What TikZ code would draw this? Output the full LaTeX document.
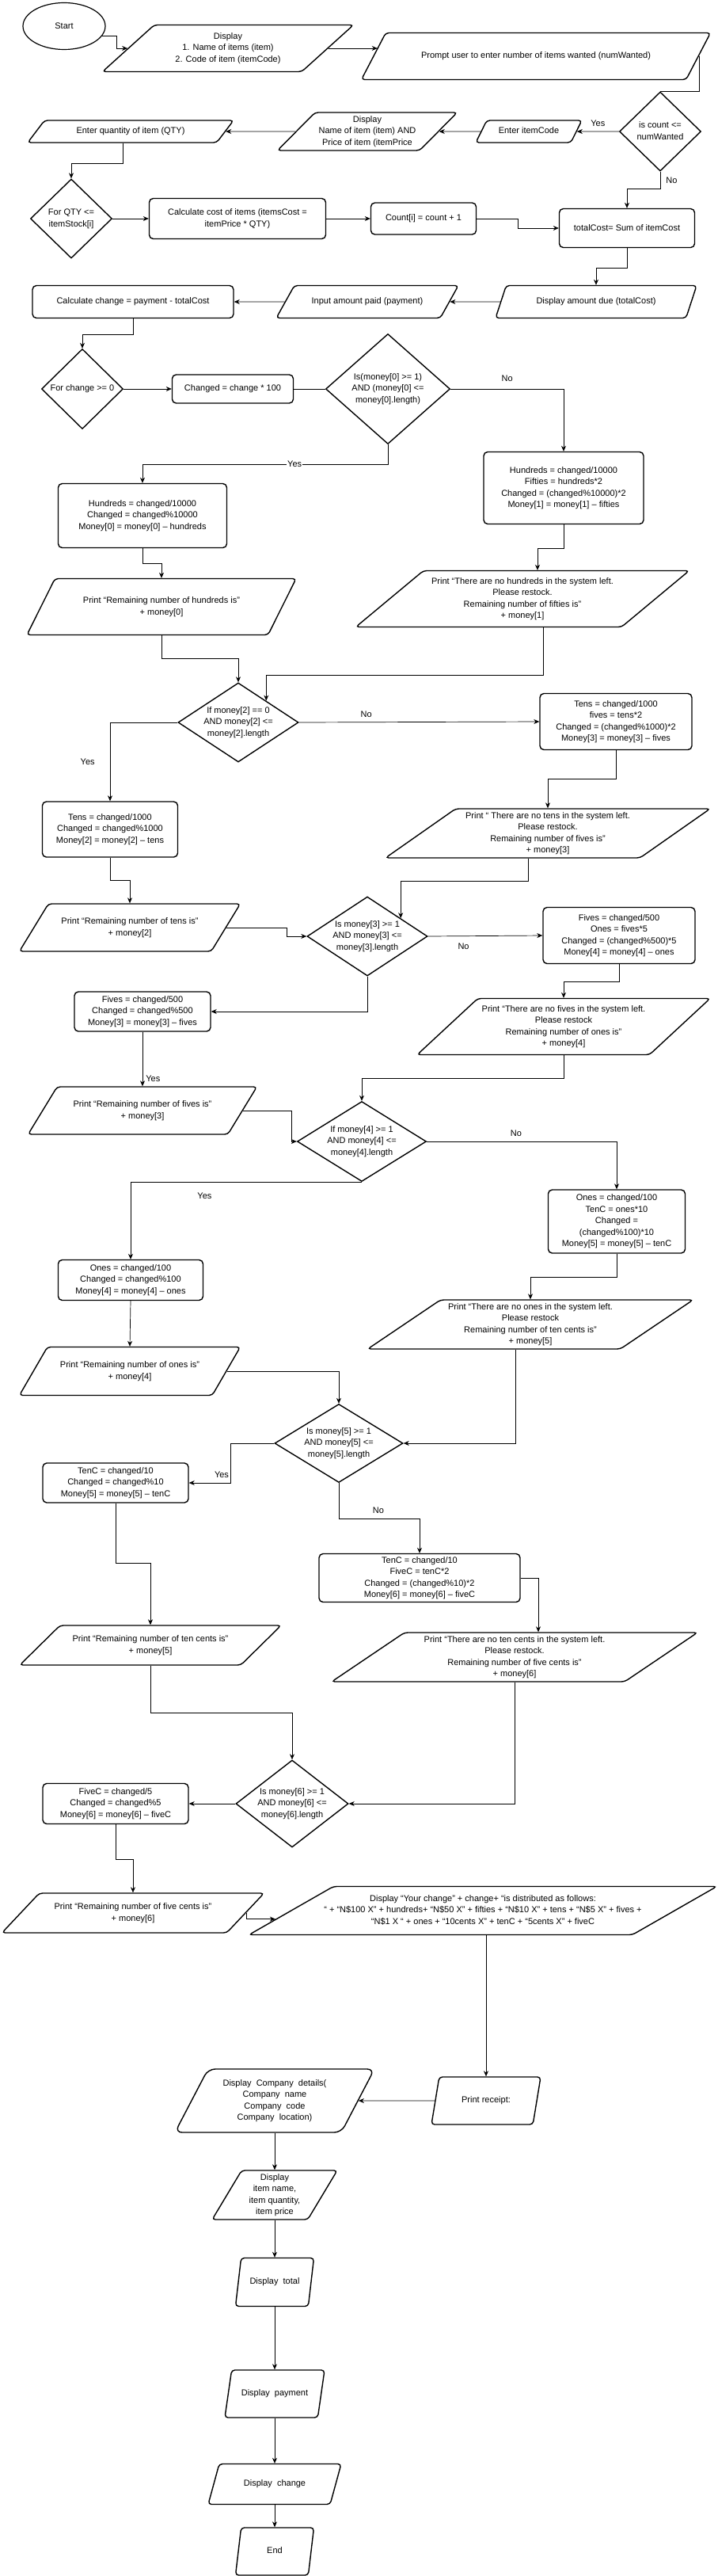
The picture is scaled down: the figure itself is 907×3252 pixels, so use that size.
\documentclass[tikz,border=0pt]{standalone}
\usepackage{fontspec}
\setmainfont{Liberation Sans}
\usepackage{tikz}
\usetikzlibrary{shapes.geometric, arrows.meta, calc, positioning}
\newcommand{\flowtxt}[1]{\makebox[0pt]{\begin{tabular}{@{}c@{}}#1\end{tabular}}}
\tikzset{
    proc/.style={draw, rectangle, rounded corners=5pt, line width=1.4pt, align=center, inner sep=2pt},
    io/.style={draw, trapezium, trapezium left angle=#1, trapezium right angle=180-#1, trapezium stretches body, rounded corners=4pt, line width=1.4pt, inner sep=2pt},
    dec/.style={draw, diamond, line width=1.4pt, inner sep=1pt},
    term/.style={draw, ellipse, line width=1.2pt},
    sz/.style 2 args={minimum width=#1, minimum height=#2},
    conn/.style={-, line width=0.7pt},
    arr/.style={conn, -{Stealth[length=7pt, width=6pt]}},
    lbl/.style={inner sep=1pt},
}

\begin{document}
\begin{tikzpicture}[x=1pt, y=-1pt, every node/.append style={font=\fontsize{11}{14.5}\selectfont}]
    \fill[white] (0,0) rectangle (907,3252);
    \useasboundingbox (0,0) rectangle (907,3252);

    % ordering items
    \node[term, sz={104}{59}] (start) at (81,33) {Start};
    \node[io=36, sz={317}{59}] (disp1) at (288,61) {\flowtxt{Display\\1. Name of items (item)\\2. Code of item (itemCode)}};
    \node[io=31, sz={441}{59}] (prompt) at (677,71) {\flowtxt{Prompt user to enter number of items wanted (numWanted)}};
    \node[dec, sz={103}{100}] (cnt) at (834,166) {\flowtxt{is count <=\\numWanted}};
    \node[io=53, sz={134}{28}] (code) at (668,166) {\flowtxt{Enter itemCode}};
    \node[io=45, sz={227}{48}] (disp2) at (464,166) {\flowtxt{Display\\Name of item (item) AND\\Price of item (itemPrice}};
    \node[io=41, sz={260}{28}] (qty) at (165,166) {\flowtxt{Enter quantity of item (QTY)}};
    \node[dec, sz={103}{100}] (forqty) at (90,276) {\flowtxt{For QTY <=\\itemStock[i]}};
    \node[proc, sz={223}{51}] (calc) at (300,276) {Calculate cost of items (itemsCost =\\itemPrice * QTY)};
    \node[proc, sz={133}{40}] (count) at (535,276) {Count[i] = count + 1};
    \node[proc, sz={171}{49}] (total) at (792,288) {totalCost= Sum of itemCost};

    % payment
    \node[io=54, sz={254}{41}] (due) at (753,381) {\flowtxt{Display amount due (totalCost)}};
    \node[io=39, sz={230}{41}] (paid) at (464,381) {\flowtxt{Input amount paid (payment)}};
    \node[proc, sz={254}{41}] (chg) at (168,381) {Calculate change = payment - totalCost};
    \node[dec, sz={103}{101}] (forchg) at (104,491) {\flowtxt{For change >= 0}};
    \node[proc, sz={153}{36}] (changed) at (294,491) {Changed = change * 100};
    \node[dec, sz={157}{139}] (m0) at (490,491) {\flowtxt{Is(money[0] >= 1)\\AND (money[0] <=\\money[0].length)}};

    % hundreds and fifties
    \node[proc, sz={213}{81}] (h) at (180,651) {Hundreds = changed/10000\\Changed = changed\%10000\\Money[0] = money[0] – hundreds};
    \node[proc, sz={202}{91}] (hf) at (712,616) {Hundreds = changed/10000\\Fifties = hundreds*2\\Changed = (changed\%10000)*2\\Money[1] = money[1] – fifties};
    \node[io=43, sz={340}{71}] (ph) at (204,766) {\flowtxt{Print “Remaining number of hundreds is”\\+ money[0]}};
    \node[io=36, sz={421}{71}] (pnh) at (660,756) {\flowtxt{Print “There are no hundreds in the system left.\\Please restock.\\Remaining number of fifties is”\\+ money[1]}};

    % tens and fives
    \node[dec, sz={152}{100}] (m2) at (301,912) {\flowtxt{If money[2] == 0\\AND money[2] <=\\money[2].length}};
    \node[proc, sz={192}{71}] (tf) at (778,911) {Tens = changed/1000\\fives = tens*2\\Changed = (changed\%1000)*2\\Money[3] = money[3] – fives};
    \node[proc, sz={171}{70}] (t) at (139,1047) {Tens = changed/1000\\Changed = changed\%1000\\Money[2] = money[2] – tens};
    \node[io=35, sz={410}{61}] (pnt) at (692,1052) {\flowtxt{Print “ There are no tens in the system left.\\Please restock.\\Remaining number of fives is”\\+ money[3]}};
    \node[io=42, sz={279}{60}] (pt) at (164,1171) {\flowtxt{Print “Remaining number of tens is”\\+ money[2]}};

    % fives and ones
    \node[dec, sz={152}{100}] (m3) at (464,1182) {\flowtxt{Is money[3] >= 1\\AND money[3] <=\\money[3].length}};
    \node[proc, sz={192}{71}] (fo) at (782,1181) {Fives = changed/500\\Ones = fives*5\\Changed = (changed\%500)*5\\Money[4] = money[4] – ones};
    \node[proc, sz={172}{50}] (f) at (180,1277) {Fives = changed/500\\Changed = changed\%500\\Money[3] = money[3] – fives};
    \node[io=39, sz={370}{71}] (pnf) at (712,1296) {\flowtxt{Print “There are no fives in the system left.\\Please restock\\Remaining number of ones is”\\+ money[4]}};
    \node[io=42, sz={289}{60}] (pf) at (180,1402) {\flowtxt{Print “Remaining number of fives is”\\+ money[3]}};

    % ones and ten cents
    \node[dec, sz={163}{101}] (m4) at (457,1441) {\flowtxt{If money[4] >= 1\\AND money[4] <=\\money[4].length}};
    \node[proc, sz={173}{80}] (ot) at (779,1542) {Ones = changed/100\\TenC = ones*10\\Changed =\\(changed\%100)*10\\Money[5] = money[5] – tenC};
    \node[proc, sz={183}{51}] (o) at (165,1616) {Ones = changed/100\\Changed = changed\%100\\Money[4] = money[4] – ones};
    \node[io=34, sz={411}{60}] (pno) at (670,1672) {\flowtxt{Print “There are no ones in the system left.\\Please restock\\Remaining number of ten cents is”\\+ money[5]}};
    \node[io=43, sz={279}{61}] (po) at (164,1731) {\flowtxt{Print “Remaining number of ones is”\\+ money[4]}};

    % ten cents and five cents
    \node[dec, sz={162}{99}] (m5) at (428,1822) {\flowtxt{Is money[5] >= 1\\AND money[5] <=\\money[5].length}};
    \node[proc, sz={184}{50}] (tc) at (146,1872) {TenC = changed/10\\Changed = changed\%10\\Money[5] = money[5] – tenC};
    \node[proc, sz={254}{61}] (tf5) at (530,1992) {TenC = changed/10\\FiveC = tenC*2\\Changed = (changed\%10)*2\\Money[6] = money[6] – fiveC};
    \node[io=33, sz={330}{50}] (ptc) at (190,2077) {\flowtxt{Print “Remaining number of ten cents is”\\+ money[5]}};
    \node[io=34, sz={462}{59}] (pntc) at (650,2092) {\flowtxt{Print “There are no ten cents in the system left.\\Please restock.\\Remaining number of five cents is”\\+ money[6]}};
    \node[dec, sz={142}{110}] (m6) at (369,2277) {\flowtxt{Is money[6] >= 1\\AND money[6] <=\\money[6].length}};
    \node[proc, sz={184}{51}] (fc) at (146,2277) {FiveC = changed/5\\Changed = changed\%5\\Money[6] = money[6] – fiveC};
    \node[io=35, sz={331}{50}] (pfc) at (168,2415) {\flowtxt{Print “Remaining number of five cents is”\\+ money[6]}};
    \node[io=24, sz={591}{61}] (dc) at (610,2412) {\flowtxt{Display “Your change” + change+ “is distributed as follows:\\“ + “N\$100 X” + hundreds+ “N\$50 X” + fifties + “N\$10 X” + tens + “N\$5 X” + fives +\\“N\$1 X “ + ones + “10cents X” + tenC + “5cents X” + fiveC}};

    % receipt
    \node[io=62, sz={138}{60}] (receipt) at (614,2652) {\flowtxt{Print receipt:}};
    \node[io=56, sz={252}{80}, rounded corners=9pt] (company) at (347,2652) {\flowtxt{Display~ Company~ details(\\Company~ name\\Company~ code\\Company~ location)}};
    \node[io=59, sz={158}{61}] (item) at (347,2771) {\flowtxt{Display\\item name,\\item quantity,\\item price}};
    \node[io=69, sz={99}{61}] (tot) at (347,2881) {\flowtxt{Display~ total}};
    \node[io=65, sz={126}{60}] (pay) at (347,3022) {\flowtxt{Display~ payment}};
    \node[io=53, sz={168}{51}] (chgd) at (347,3136) {\flowtxt{Display~ change}};
    \node[io=69, sz={99}{60}] (end) at (347,3221) {\flowtxt{End}};

    % connectors
    \draw[arr] (start.-15) -- ++(19,0) |- (disp1.west);
    \path (prompt.bottom left corner) -- (prompt.top left corner) coordinate[pos=0.68] (pin);
    \draw[arr] (disp1.east) -- (disp1.east -| pin);
    \draw[conn] (prompt.east) |- (cnt.north);
    \draw[arr] (cnt.west) -- node[lbl, above=5pt] {Yes} (code.east);
    \draw[arr] (code.west) -- (disp2.east);
    \draw[arr] (disp2.west) -- (qty.east);
    \draw[arr] ($(qty.center |- qty.south)+(-10,0)$) -- ++(0,26) -| (forqty.north);
    \draw[arr] (forqty.east) -- (calc.west);
    \draw[arr] (calc.east) -- (count.west);
    \draw[arr] (count.east) -- ++(52,0) |- (total.west);
    \draw[arr] (cnt.south) -- node[lbl, right=6pt] {No} ++(0,22) -| (total.north);
    \draw[arr] (total.south) -- ++(0,25) -| (due.center |- due.north);
    \draw[arr] (due.west) -- (paid.east);
    \draw[arr] (paid.west) -- (chg.east);
    \draw[arr] (chg.south) -- ++(0,20) -| (forchg.north);
    \draw[arr] (forchg.east) -- (changed.west);
    \draw[conn] (changed.east) -- (m0.west);
    \draw[arr] (m0.east) -| node[lbl, pos=0.25, above=8pt] {No} (hf.north);
    \draw[arr] (m0.south) -- ++(0,25) -| node[lbl, fill=white, pos=0.19] {Yes} (h.north);
    \draw[arr] (h.south) -- ++(0,19) -| (ph.center |- ph.north);
    \draw[arr] (hf.south) -- ++(0,30) -| ($(pnh.center |- pnh.north)+(19,0)$);
    \draw[arr] (ph.center |- ph.south) -- ++(0,29) -| (m2.north);
    \draw[arr] ($(pnh.center |- pnh.south)+(26,0)$) -- ++(0,60) -| ($(m2.north)!0.46!(m2.east)$);
    \draw[arr] (m2.east) -- node[lbl, pos=0.28, above=5pt] {No} (tf.west);
    \draw[arr] (m2.west) -| node[lbl, pos=0.75, left=18pt] {Yes} (t.north);
    \draw[arr] (tf.south) -- ++(0,36) -| (pnt.center |- pnt.north);
    \draw[arr] (t.south) -- ++(0,29) -| (pt.center |- pt.north);
    \draw[arr] (pt.east) -- ++(76,0) |- (m3.west);
    \draw[arr] ($(pnt.center |- pnt.south)+(-25,0)$) -- ++(0,29) -| ($(m3.north)!0.55!(m3.east)$);
    \draw[arr] (m3.east) -- node[lbl, pos=0.31, below=8pt] {No} (fo.west);
    \draw[arr] (m3.south) |- (f.east);
    \draw[arr] (fo.south) -- ++(0,22) -| (pnf.center |- pnf.north);
    \draw[arr] (f.south) -- node[lbl, pos=0.86, right=3pt] {Yes} (pf.center |- pf.north);
    \draw[arr] (pf.east) -- ++(61,0) |- (m4.west);
    \draw[arr] (pnf.center |- pnf.south) -- ++(0,29) -| (m4.north);
    \draw[arr] (m4.east) -| node[lbl, pos=0.235, above=5pt] {No} (ot.north);
    \draw[arr] (m4.south) -| node[lbl, pos=0.34, below=12pt] {Yes} (o.north);
    \draw[arr] (ot.south) -- ++(0,30) -| (pno.center |- pno.north);
    \draw[arr] (o.south) -- (po.center |- po.north);
    \draw[arr] (po.east) -| (m5.north);
    \draw[arr] ($(pno.center |- pno.south)+(-19,0)$) |- (m5.east);
    \draw[arr] (m5.west) -- ++(-55,0) |- node[lbl, pos=0.4, left=1pt] {Yes} (tc.east);
    \draw[arr] (m5.south) -- ++(0,45) -| node[lbl, pos=0.245, above=5pt] {No} (tf5.north);
    \draw[arr] (tc.south) -- ++(0,76) -| (ptc.center |- ptc.north);
    \draw[arr] (tf5.east) -| ($(pntc.center |- pntc.north)+(30,0)$);
    \draw[arr] (ptc.center |- ptc.south) -- ++(0,60) -| (m6.north);
    \draw[arr] (pntc.center |- pntc.south) |- (m6.east);
    \draw[arr] (m6.west) -- (fc.east);
    \draw[arr] (fc.south) -- ++(0,44) -| (pfc.center |- pfc.north);
    \path (dc.bottom left corner) -- (dc.top left corner) coordinate[pos=0.33] (dcin);
    \draw[arr] (pfc.east) |- (dcin);
    \draw[arr] (dc.south -| receipt.center) -- (receipt.north -| receipt.center);
    \draw[arr] (receipt.west) -- (company.east);
    \draw[arr] (company.south -| company.center) -- (item.north -| item.center);
    \draw[arr] (item.south -| item.center) -- (tot.north -| tot.center);
    \draw[arr] (tot.south -| tot.center) -- (pay.north -| pay.center);
    \draw[arr] (pay.south -| pay.center) -- (chgd.north -| chgd.center);
    \draw[arr] (chgd.south -| chgd.center) -- (end.north -| end.center);
\end{tikzpicture}
\end{document}
